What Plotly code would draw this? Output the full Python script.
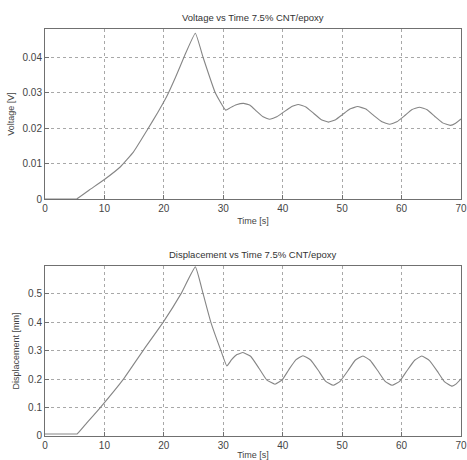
import plotly.graph_objects as go
from plotly.subplots import make_subplots

# Voltage vs time
t_v = [0, 4.9, 5.33, 7.5, 10.0, 12.7, 14.9, 17.1, 19.0, 20.5, 22.0, 23.5, 25.3,
       26.6, 28.65, 30.4, 31.2, 32.2, 33.4, 34.5, 35.6, 36.7, 37.8, 39.0, 40.2, 41.4,
       42.6, 43.9, 45.2, 46.5, 47.7, 48.9, 50.1, 51.3, 52.6, 54.0, 55.3, 56.7, 58.0,
       59.2, 60.5, 61.7, 63.0, 64.3, 65.6, 66.9, 68.2, 69.1, 70.0]
voltage = [0, 0, 0, 0.0026, 0.0055, 0.0091, 0.0133, 0.0192, 0.0245, 0.0290,
           0.0345, 0.0405, 0.0468, 0.0400, 0.0300, 0.0251, 0.0258, 0.0266, 0.0270,
           0.0265, 0.0248, 0.0232, 0.0225, 0.0232, 0.0246, 0.0260, 0.0267, 0.0260,
           0.0242, 0.0224, 0.0217, 0.0224, 0.0239, 0.0254, 0.0261, 0.0254, 0.0236,
           0.0218, 0.0211, 0.0218, 0.0235, 0.0252, 0.0259, 0.0252, 0.0233, 0.0215,
           0.0208, 0.0214, 0.0226]

# Displacement vs time
t_d = [0, 5.0, 5.4, 7.0, 9.3, 13.2, 16.5, 19.9, 22.9, 25.3, 26.6, 27.9, 29.6, 30.6,
       31.4, 32.3, 33.3, 34.6, 36.0, 37.3, 38.7, 39.9, 41.0, 42.2, 43.4, 44.7, 46.0,
       47.2, 48.5, 49.7, 51.0, 52.2, 53.5, 54.7, 56.0, 57.2, 58.4, 59.7, 60.9, 62.2,
       63.4, 64.7, 66.0, 67.2, 68.5, 69.2, 70.0]
displacement = [0.007, 0.007, 0.007, 0.045, 0.100, 0.200, 0.300, 0.400, 0.500, 0.594,
                0.500, 0.400, 0.300, 0.246, 0.268, 0.286, 0.293, 0.280, 0.238, 0.197,
                0.182, 0.197, 0.232, 0.267, 0.282, 0.267, 0.230, 0.193, 0.178, 0.193,
                0.230, 0.266, 0.281, 0.266, 0.229, 0.193, 0.178, 0.193, 0.229, 0.266,
                0.281, 0.265, 0.228, 0.191, 0.175, 0.183, 0.201]

x_ticks = [0, 10, 20, 30, 40, 50, 60, 70]
v_ticks = [0, 0.01, 0.02, 0.03, 0.04]
v_labels = ["0", "0.01", "0.02", "0.03", "0.04"]
d_ticks = [0, 0.1, 0.2, 0.3, 0.4, 0.5]
d_labels = ["0", "0.1", "0.2", "0.3", "0.4", "0.5"]

FONT = "Liberation Sans, Arial, sans-serif"
LINE = dict(color="#858585", width=1.1, shape="spline", smoothing=0.35)

fig = make_subplots(rows=2, cols=1)
fig.add_trace(go.Scatter(x=t_v, y=voltage, mode="lines", line=LINE, hoverinfo="skip"),
              row=1, col=1)
fig.add_trace(go.Scatter(x=t_d, y=displacement, mode="lines", line=LINE, hoverinfo="skip"),
              row=2, col=1)

axis_common = dict(showline=True, linecolor="#707070", linewidth=1, mirror=True,
                   showgrid=True, gridcolor="#a8a8a8", griddash="dot", gridwidth=1,
                   ticks="inside", ticklen=4, tickcolor="#707070", zeroline=False,
                   automargin=False,
                   tickfont=dict(family=FONT, size=10, color="#444"))
title_font = dict(family=FONT, size=9, color="#444")

fig.update_xaxes(range=[0, 70], tickvals=x_ticks, **axis_common)
fig.update_xaxes(title=dict(text="Time [s]", standoff=4, font=title_font), row=1, col=1)
fig.update_xaxes(title=dict(text="Time [s]", standoff=2, font=title_font), row=2, col=1)
fig.update_yaxes(range=[0, 0.048], tickvals=v_ticks, ticktext=v_labels,
                 title=dict(text="Voltage [V]", standoff=6, font=title_font),
                 domain=[0.5823, 1.0], row=1, col=1, **axis_common)
fig.update_yaxes(range=[0, 0.597], tickvals=d_ticks, ticktext=d_labels,
                 title=dict(text="Displacement [mm]", standoff=6, font=title_font),
                 domain=[0.0, 0.4177], row=2, col=1, **axis_common)

fig.update_layout(
    width=467, height=460,
    margin=dict(l=45, r=6, t=29, b=24, autoexpand=False),
    paper_bgcolor="white", plot_bgcolor="white",
    showlegend=False,
    annotations=[
        dict(text="Voltage vs Time 7.5% CNT/epoxy", x=0.5, y=1.0, xref="paper", yref="paper",
             xanchor="center", yanchor="bottom", yshift=4, showarrow=False,
             font=dict(family=FONT, size=9.5, color="#333")),
        dict(text="Displacement vs Time 7.5% CNT/epoxy", x=0.5, y=0.4177, xref="paper",
             yref="paper", xanchor="center", yanchor="bottom", yshift=4, showarrow=False,
             font=dict(family=FONT, size=9.5, color="#333")),
    ],
)

# remove the browser's default 8px body margin so the figure sits at the window origin
fig.write_html("out.html", config={"displayModeBar": False},
               post_script="document.body.style.margin='0';")
